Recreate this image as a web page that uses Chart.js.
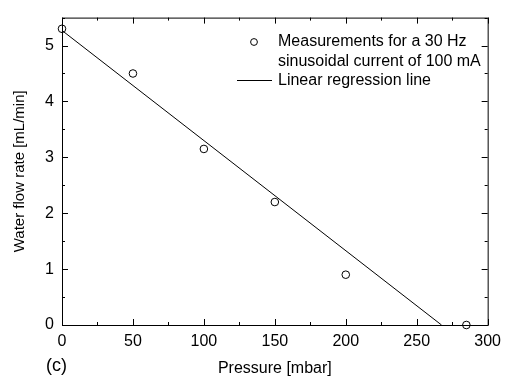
<!DOCTYPE html>
<html lang="en">
<head>
    <meta charset="UTF-8">
    <title>Water flow rate vs pressure</title>
    <script src="https://cdn.jsdelivr.net/npm/chart.js"></script>
    <style>
        body { margin: 0; background: #fff; }
        #wrap { width: 508px; height: 376px; }
    </style>
</head>
<body>
    <div id="wrap"><canvas id="flowChart"></canvas></div>

    <script>
        // measured points
        var pressure = [0, 50, 100, 150, 200, 285];
        var flowRate = [5.3, 4.5, 3.15, 2.2, 0.9, 0];

        // regression line end points
        var fitPressure = [0, 267.5];
        var fitFlow = [5.27, 0];

        var xTicks = [0, 50, 100, 150, 200, 250, 300];
        var yTicks = [0, 1, 2, 3, 4, 5];

        var legendLines = ['Measurements for a 30 Hz', 'sinusoidal current of 100 mA', 'Linear regression line'];
        var panelLabel = '(c)';

        var FONT = '"Liberation Sans", Arial, sans-serif';

        // box, inward ticks on all four sides, legend and panel letter
        var framePlugin = {
            id: 'frame',
            afterDatasetsDraw: function(chart) {
                var ctx = chart.ctx;
                var a = chart.chartArea;
                var xs = chart.scales.x, ys = chart.scales.y;
                ctx.save();
                ctx.strokeStyle = '#000';
                ctx.lineWidth = 1;
                ctx.strokeRect(a.left + 0.5, a.top + 0.5, a.right - a.left, a.bottom - a.top);

                ctx.beginPath();
                for (var v = 0; v <= 300; v += 25) {
                    var px = Math.round(xs.getPixelForValue(v)) + 0.5;
                    var len = (v % 50 === 0) ? 6 : 3;
                    ctx.moveTo(px, a.bottom); ctx.lineTo(px, a.bottom - len);
                    ctx.moveTo(px, a.top); ctx.lineTo(px, a.top + len);
                }
                for (var w = 0; w <= 5.5; w += 0.5) {
                    var py = Math.round(ys.getPixelForValue(w)) + 0.5;
                    var l2 = (w % 1 === 0) ? 6 : 3;
                    ctx.moveTo(a.left, py); ctx.lineTo(a.left + l2, py);
                    ctx.moveTo(a.right, py); ctx.lineTo(a.right - l2, py);
                }
                ctx.stroke();

                // legend
                ctx.fillStyle = '#000';
                ctx.font = '16px ' + FONT;
                ctx.textBaseline = 'middle';
                ctx.textAlign = 'left';
                ctx.beginPath();
                ctx.arc(254, 42, 3.4, 0, Math.PI * 2);
                ctx.stroke();
                ctx.fillText(legendLines[0], 278, 42);
                ctx.fillText(legendLines[1], 278, 61.5);
                ctx.beginPath();
                ctx.moveTo(237, 80.5); ctx.lineTo(272, 80.5);
                ctx.stroke();
                ctx.fillText(legendLines[2], 278, 81);

                ctx.font = '18px ' + FONT;
                ctx.textBaseline = 'alphabetic';
                ctx.fillText(panelLabel, 46, 371);
                ctx.restore();
            }
        };

        var ctx = document.getElementById('flowChart').getContext('2d');
        var flowChart = new Chart(ctx, {
            type: 'scatter',
            data: {
                datasets: [{
                    label: 'Measurements',
                    data: pressure.map(function(p, i) { return { x: p, y: flowRate[i] }; }),
                    pointStyle: 'circle',
                    pointRadius: 3.8,
                    pointBorderWidth: 1,
                    borderColor: '#000',
                    backgroundColor: 'rgba(255,255,255,0)',
                    clip: false
                }, {
                    label: 'Linear regression line',
                    data: fitPressure.map(function(p, i) { return { x: p, y: fitFlow[i] }; }),
                    showLine: true,
                    pointRadius: 0,
                    borderColor: '#000',
                    borderWidth: 1
                }]
            },
            options: {
                responsive: true,
                maintainAspectRatio: false,
                animation: false,
                events: [],
                layout: { padding: { left: 0, top: 13, right: 13, bottom: 0 } },
                plugins: { legend: { display: false }, tooltip: { enabled: false } },
                scales: {
                    x: {
                        type: 'linear',
                        min: 0, max: 300,
                        afterBuildTicks: function(s) { s.ticks = xTicks.map(function(v) { return { value: v }; }); },
                        afterFit: function(s) { s.height = 51; },
                        grid: { display: false, drawTicks: false },
                        border: { display: false },
                        ticks: { color: '#000', padding: 7, font: { family: FONT, size: 16 } },
                        title: { display: true, text: 'Pressure [mbar]', color: '#000', padding: { top: 0, bottom: -2 }, font: { family: FONT, size: 16 } }
                    },
                    y: {
                        type: 'linear',
                        min: 0, max: 5.5,
                        afterBuildTicks: function(s) { s.ticks = yTicks.map(function(v) { return { value: v }; }); },
                        afterFit: function(s) { s.width = 62; },
                        grid: { display: false, drawTicks: false },
                        border: { display: false },
                        ticks: { color: '#000', padding: 8, font: { family: FONT, size: 16 } },
                        title: { display: true, text: 'Water flow rate [mL/min]', color: '#000', padding: { top: 11, bottom: 0 }, font: { family: FONT, size: 15 } }
                    }
                }
            },
            plugins: [framePlugin]
        });
    </script>
</body>
</html>
